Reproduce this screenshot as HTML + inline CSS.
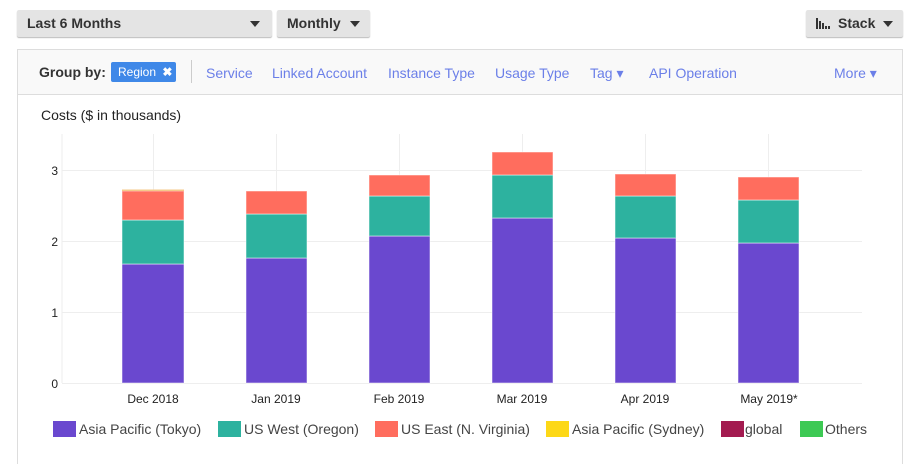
<!DOCTYPE html>
<html><head><style>
html,body{margin:0;width:906px;height:464px;overflow:hidden}
body{background:#fff;font-family:"Liberation Sans",sans-serif;position:relative}
.btn{position:absolute;top:10px;height:27px;background:#e4e4e4;border-radius:2px;box-shadow:0 1px 1px #bbb;font-weight:bold;font-size:14px;color:#333;line-height:26px;box-sizing:border-box;padding-left:10px}
.tri{position:absolute;top:11px;width:0;height:0;border-left:5px solid transparent;border-right:5px solid transparent;border-top:6px solid #333}
.panel{position:absolute;left:17px;top:49px;width:886px;height:415px;border:1px solid #ddd;border-bottom:none;box-sizing:border-box}
.hdr{position:absolute;left:0;top:0;width:100%;height:44px;background:#f9f9f9;border-bottom:1px solid #ddd;font-size:14px}
.hdr span{position:absolute;top:15px;color:#6b7fe8}
.lg{position:absolute;top:421px;font-size:14px;color:#444}
.sw{position:absolute;top:421px;width:23px;height:16px}
</style></head><body>
<div class="btn" style="left:17px;width:255px">Last 6 Months<div class="tri" style="left:233px"></div></div>
<div class="btn" style="left:277px;width:93px">Monthly<div class="tri" style="left:73px"></div></div>
<div class="btn" style="left:806px;width:97px;padding-left:32px">Stack<div class="tri" style="left:77px"></div>
<svg style="position:absolute;left:10px;top:8px" width="16" height="11"><rect x="0" y="0" width="2" height="11" fill="#333"/><rect x="3" y="3" width="2" height="8" fill="#333"/><rect x="6" y="5" width="2" height="6" fill="#333"/><rect x="9" y="8" width="2" height="3" fill="#333"/><rect x="12" y="8" width="2" height="3" fill="#333"/></svg></div>
<div class="panel"><div class="hdr">
<span style="left:21px;color:#333;font-weight:bold;top:14px">Group by:</span>
<div style="position:absolute;left:93px;top:12px;width:65px;height:20px;background:#3f88e8;border-radius:2px;color:#fff;font-size:12px;line-height:20px;padding-left:7px;box-sizing:border-box">Region <b style="margin-left:3px">✖</b></div>
<div style="position:absolute;left:173px;top:10px;width:1px;height:23px;background:#ccc"></div>
<span style="left:188px">Service</span><span style="left:254px">Linked Account</span><span style="left:370px">Instance Type</span><span style="left:477px">Usage Type</span><span style="left:572px">Tag ▾</span><span style="left:631px">API Operation</span><span style="left:816px">More ▾</span>
</div></div>
<div style="position:absolute;left:41px;top:107px;font-size:14px;color:#222">Costs ($ in thousands)</div>
<svg style="position:absolute;left:0;top:0" width="906" height="464" font-family="Liberation Sans,sans-serif" font-size="12">
<g stroke="#eee" stroke-width="1">
<line x1="62" y1="134" x2="62" y2="383"/>
<line x1="62" y1="383.5" x2="862" y2="383.5"/><line x1="62" y1="312.5" x2="862" y2="312.5"/><line x1="62" y1="241.5" x2="862" y2="241.5"/><line x1="62" y1="170.5" x2="862" y2="170.5"/>
<line x1="153.5" y1="134" x2="153.5" y2="383"/><line x1="276.5" y1="134" x2="276.5" y2="383"/><line x1="399.5" y1="134" x2="399.5" y2="383"/><line x1="522.5" y1="134" x2="522.5" y2="383"/><line x1="645.5" y1="134" x2="645.5" y2="383"/><line x1="768.5" y1="134" x2="768.5" y2="383"/>
</g>
<g fill="#222" text-anchor="end"><text x="58" y="388">0</text><text x="58" y="317">1</text><text x="58" y="246">2</text><text x="58" y="175">3</text></g>
<g stroke="#fff" stroke-opacity="0.5" stroke-width="1">
<rect x="122" y="264" width="62" height="119" fill="#6a48cf"/><rect x="122" y="220" width="62" height="44" fill="#2db29f"/><rect x="122" y="191" width="62" height="29" fill="#ff6d5e"/><rect x="122" y="189.5" width="62" height="1.5" fill="#f5c98a" stroke="none"/>
<rect x="246" y="258" width="61" height="125" fill="#6a48cf"/><rect x="246" y="214" width="61" height="44" fill="#2db29f"/><rect x="246" y="191" width="61" height="23" fill="#ff6d5e"/>
<rect x="369" y="236" width="61" height="147" fill="#6a48cf"/><rect x="369" y="196" width="61" height="40" fill="#2db29f"/><rect x="369" y="175" width="61" height="21" fill="#ff6d5e"/>
<rect x="492" y="218" width="61" height="165" fill="#6a48cf"/><rect x="492" y="175" width="61" height="43" fill="#2db29f"/><rect x="492" y="152" width="61" height="23" fill="#ff6d5e"/>
<rect x="615" y="238" width="61" height="145" fill="#6a48cf"/><rect x="615" y="196" width="61" height="42" fill="#2db29f"/><rect x="615" y="174" width="61" height="22" fill="#ff6d5e"/>
<rect x="738" y="243" width="61" height="140" fill="#6a48cf"/><rect x="738" y="200" width="61" height="43" fill="#2db29f"/><rect x="738" y="177" width="61" height="23" fill="#ff6d5e"/>
</g>
<g fill="#222" text-anchor="middle"><text x="153" y="403">Dec 2018</text><text x="276" y="403">Jan 2019</text><text x="399" y="403">Feb 2019</text><text x="522" y="403">Mar 2019</text><text x="645" y="403">Apr 2019</text><text x="769" y="403">May 2019*</text></g>
</svg>
<div class="sw" style="left:53px;background:#6a48cf"></div><div class="lg" style="left:79px">Asia Pacific (Tokyo)</div>
<div class="sw" style="left:218px;background:#2db29f"></div><div class="lg" style="left:244px">US West (Oregon)</div>
<div class="sw" style="left:375px;background:#ff6d5e"></div><div class="lg" style="left:401px">US East (N. Virginia)</div>
<div class="sw" style="left:546px;background:#fdd817"></div><div class="lg" style="left:572px">Asia Pacific (Sydney)</div>
<div class="sw" style="left:721px;background:#a31b50"></div><div class="lg" style="left:745px">global</div>
<div class="sw" style="left:800px;background:#3dc954"></div><div class="lg" style="left:825px">Others</div>
</body></html>
